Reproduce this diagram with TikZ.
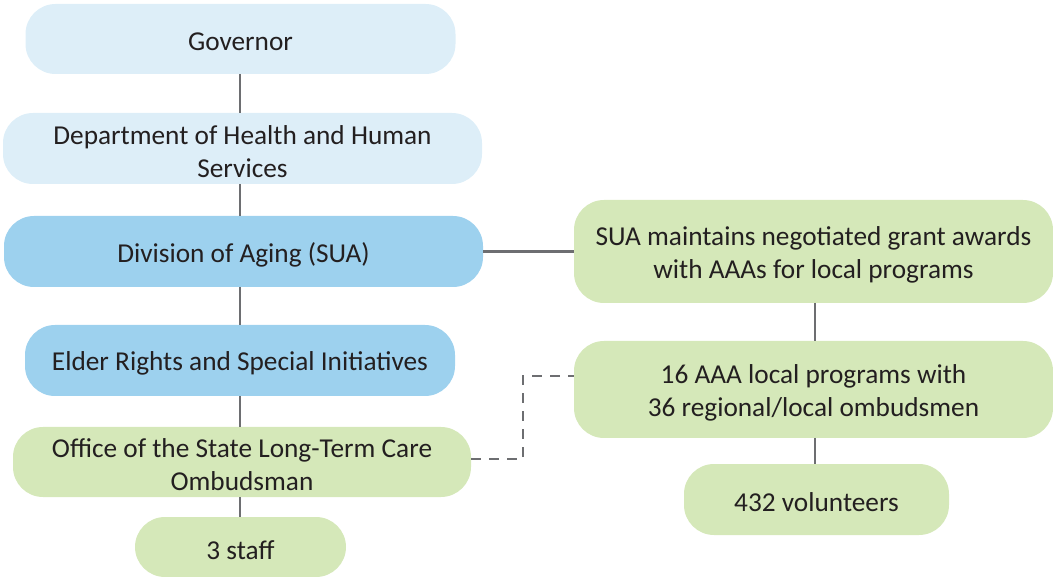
\documentclass[tikz,border=0pt]{standalone}
\usepackage{fontspec}
\setmainfont{Carlito}
\definecolor{lblue}{HTML}{DDEEF8}
\definecolor{mblue}{HTML}{9DD1EE}
\definecolor{lgreen}{HTML}{D5E8B9}
\definecolor{lgray}{HTML}{6D6E71}
\definecolor{tdark}{HTML}{231F20}
\tikzset{
  txt/.style={inner sep=0pt, align=center, text=tdark, font=\fontsize{27.3}{33}\selectfont, yshift=-3pt},
  box/.style={rectangle, rounded corners=30pt, inner sep=0pt, outer sep=0pt},
  lb/.style={box, fill=lblue},
  mb/.style={box, fill=mblue},
  gb/.style={box, fill=lgreen},
  conn/.style={draw=lgray, line width=2.8pt},
  dconn/.style={draw=lgray, line width=2.8pt, dash pattern=on 10pt off 8pt},
}
\begin{document}
\begin{tikzpicture}[x=1pt,y=-1pt]
\useasboundingbox (0,0) rectangle (1053,577);
\node[lb, minimum width=430pt, minimum height=70pt, label={[txt]center:Governor}] (gov) at (240.5,39) {};
\node[lb, minimum width=479pt, minimum height=71pt, label={[txt]center:Department of Health and Human\\Services}] (dept) at (242.5,148.5) {};
\node[mb, minimum width=479pt, minimum height=71pt, label={[txt]center:Division of Aging (SUA)}] (div) at (243.5,251.5) {};
\node[mb, minimum width=430pt, minimum height=71pt, label={[txt]center:Elder Rights and Special Initiatives}] (eld) at (240,360.5) {};
\node[gb, minimum width=458pt, minimum height=70pt, label={[txt]center:Office of the State Long-Term Care\\Ombudsman}] (off) at (242,462) {};
\node[gb, minimum width=211pt, minimum height=60pt, label={[txt]center:3 staff}] (staff) at (240.5,547) {};
\node[gb, minimum width=479pt, minimum height=103pt, label={[txt]center:SUA maintains negotiated grant awards\\with AAAs for local programs}] (sua) at (813.5,251.5) {};
\node[gb, minimum width=479pt, minimum height=97pt, label={[txt]center:16 AAA local programs with\\36 regional/local ombudsmen}] (aaa) at (813.5,389.5) {};
\node[gb, minimum width=265pt, minimum height=71pt, label={[txt]center:432 volunteers}] (vol) at (816.5,499.5) {};
\draw[conn] (gov.south -| 240,0) -- (dept.north -| 240,0);
\draw[conn] (dept.south -| 240,0) -- (div.north -| 240,0);
\draw[conn] (div.south -| 240,0) -- (eld.north -| 240,0);
\draw[conn] (eld.south -| 240,0) -- (off.north -| 240,0);
\draw[conn] (off.south -| 240,0) -- (staff.north -| 240,0);
\draw[conn] (div.east) -- (div.east -| sua.west);
\draw[conn] (sua.south -| 815,0) -- (aaa.north -| 815,0);
\draw[conn] (aaa.south -| 815,0) -- (vol.north -| 815,0);
\coordinate (d1) at (523,459);
\coordinate (d2) at (523,376);
\draw[dconn] (off.east |- d1) -- (d1) -- (d2) -- (aaa.west |- d2);
\end{tikzpicture}
\end{document}
